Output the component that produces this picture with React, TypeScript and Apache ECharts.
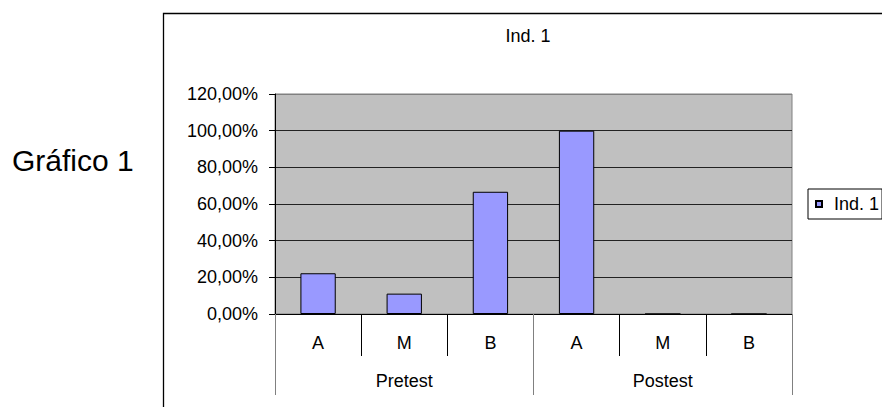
import React, { useEffect, useRef } from "react";
import * as echarts from "echarts";

const groups = ["Pretest", "Postest"];
const levels = ["A", "M", "B", "A", "M", "B"];
const ind1 = [0.2222, 0.1111, 0.6667, 1.0, 0, 0];
const seriesName = "Ind. 1";
const chartTitle = "Ind. 1";
const sideLabel = "Gráfico 1";

const FONT = "'Liberation Sans', Arial, sans-serif";

export default function App() {
  const ref = useRef<HTMLDivElement>(null);
  useEffect(() => {
    if (!ref.current) return;
    const chart = echarts.init(ref.current, undefined, { renderer: "svg" });
    chart.setOption({
      animation: false,
      backgroundColor: "#ffffff",
      textStyle: { fontFamily: FONT },
      grid: {
        left: 275,
        right: 90,
        top: 94,
        bottom: 93,
        show: true,
        backgroundColor: "#C0C0C0",
        borderColor: "#808080",
        borderWidth: 1,
      },
      legend: {
        left: 808,
        top: 189,
        padding: [5, 3, 5, 7],
        itemWidth: 6,
        itemHeight: 6,
        icon: "rect",
        borderColor: "#000",
        borderWidth: 1,
        textStyle: { fontSize: 18, color: "#000", fontFamily: FONT, padding: [0, 0, 0, 7], lineHeight: 20 },
        data: [seriesName],
      },
      xAxis: [
        {
          type: "category",
          data: levels,
          position: "bottom",
          axisLine: { show: true, lineStyle: { color: "#000", width: 1 } },
          axisTick: { show: true, length: 42, interval: 0, lineStyle: { color: "#000" } },
          axisLabel: { interval: 0, margin: 20, fontSize: 18, color: "#000", fontFamily: FONT },
        },
        {
          type: "category",
          data: groups,
          position: "bottom",
          axisLine: { show: false },
          axisTick: { show: true, length: 81, interval: 0, lineStyle: { color: "#808080" } },
          axisLabel: { interval: 0, margin: 58, fontSize: 18, color: "#000", fontFamily: FONT },
        },
      ],
      yAxis: {
        type: "value",
        min: 0,
        max: 1.2,
        interval: 0.2,
        axisLine: { show: true, lineStyle: { color: "#000", width: 1 } },
        axisTick: { show: true, length: 6, lineStyle: { color: "#000" } },
        axisLabel: {
          margin: 17,
          fontSize: 18,
          color: "#000",
          fontFamily: FONT,
          formatter: (v: number) => (v * 100).toFixed(2).replace(".", ",") + "%",
        },
        splitLine: {
          show: true,
          lineStyle: {
            color: ["#222", "#222", "#222", "#222", "#222", "#222", "#808080"],
            width: 1,
          },
        },
      },
      series: [
        {
          name: seriesName,
          type: "bar",
          data: ind1,
          barWidth: "41%",
          itemStyle: { color: "#9999FF", borderColor: "#000", borderWidth: 1 },
        },
      ],
      graphic: [
        {
          type: "rect",
          shape: { x: 163.5, y: 13.5, width: 900, height: 600 },
          style: { fill: "none", stroke: "#000", lineWidth: 1.3 },
          silent: true,
        },
        {
          type: "text",
          x: 528,
          y: 36,
          style: {
            text: chartTitle,
            fontSize: 18,
            fontFamily: FONT,
            fill: "#000",
            textAlign: "center",
            textVerticalAlign: "middle",
          },
        },
        {
          type: "text",
          x: 12,
          y: 160,
          style: {
            text: sideLabel,
            fontSize: 30,
            fontFamily: FONT,
            fill: "#000",
            textAlign: "left",
            textVerticalAlign: "middle",
          },
        },
      ],
    });
    return () => chart.dispose();
  }, []);
  return (
    <div
      ref={ref}
      style={{ position: "fixed", left: 0, top: 0, width: 882, height: 407, background: "#fff" }}
    />
  );
}
